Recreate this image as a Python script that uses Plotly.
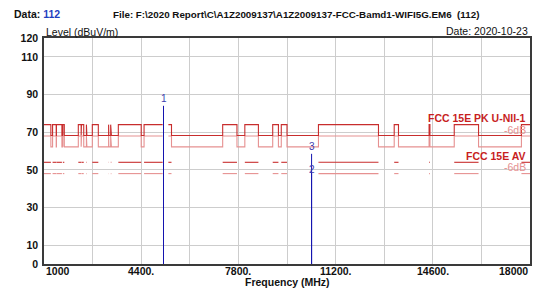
import plotly.graph_objects as go

# ---------------- data ----------------
# FCC 15.205 restricted bands (MHz): limit 74 dBuV/m PK / 54 AV inside, 68.2 PK outside
RESTRICTED_START = [960, 1300, 1435, 1645.5, 1660, 1718.8, 2200, 2310, 2483.5, 2690,
                    3260, 3332, 3345.8, 3600, 4500, 5350, 7250, 8025, 9000, 9300,
                    10600, 13250, 14470, 15350, 17700]
RESTRICTED_STOP = [1240, 1427, 1626.5, 1646.5, 1710, 1722.2, 2300, 2390, 2500, 2900,
                   3267, 3339, 3358, 4400, 5150, 5460, 7750, 8500, 9200, 9500,
                   12700, 13400, 14500, 16200, 21400]
EXCLUDED_BAND = [5150, 5350]          # no limit line drawn here (U-NII-1 band)
PK_RESTRICTED = 74.0
PK_OTHER = 68.2
AV_RESTRICTED = 54.0
MARGIN_DB = 6.0
F_MIN, F_MAX = 1000, 18000

MARKER_FREQ = [5180, 10360, 10360]
MARKER_LEVEL = [84.0, 48.7, 58.5]
MARKER_LABEL = ["1", "2", "3"]

X_GRID = [1000 + 1700 * i for i in range(11)]
X_TICK_VALS = [1000, 4400, 7800, 11200, 14600, 18000]
X_TICK_TEXT = ["1000", "4400.", "7800.", "11200.", "14600.", "18000"]
Y_TICK_VALS = [0, 10, 30, 50, 70, 90, 110, 120]

# ---------------- build limit lines ----------------
bps = sorted(set([F_MIN, F_MAX] + [f for f in RESTRICTED_START + RESTRICTED_STOP + EXCLUDED_BAND
                                    if F_MIN < f < F_MAX]))
segments = []
for a, b in zip(bps[:-1], bps[1:]):
    mid = (a + b) / 2
    if EXCLUDED_BAND[0] <= mid < EXCLUDED_BAND[1]:
        segments.append((a, b, None))
        continue
    restricted = any(s <= mid < e for s, e in zip(RESTRICTED_START, RESTRICTED_STOP))
    segments.append((a, b, restricted))

pk_x, pk_y, av_x, av_y = [], [], [], []
for a, b, r in segments:
    if r is None:
        pk_x.append(None); pk_y.append(None)
        continue
    lvl = PK_RESTRICTED if r else PK_OTHER
    pk_x += [a, b]; pk_y += [lvl, lvl]
    if r:
        av_x += [a, b, None]; av_y += [AV_RESTRICTED, AV_RESTRICTED, None]

pk6_y = [None if v is None else v - MARGIN_DB for v in pk_y]
av6_y = [None if v is None else v - MARGIN_DB for v in av_y]

DARK = "rgb(200,45,45)"
LIGHT = "rgb(230,145,145)"

fig = go.Figure()
fig.add_trace(go.Scatter(x=pk_x, y=pk6_y, mode="lines", line=dict(color=LIGHT, width=1.1),
                         connectgaps=False, hoverinfo="skip"))
fig.add_trace(go.Scatter(x=av_x, y=av6_y, mode="lines", line=dict(color=LIGHT, width=1.1),
                         connectgaps=False, hoverinfo="skip"))
fig.add_trace(go.Scatter(x=pk_x, y=pk_y, mode="lines", line=dict(color=DARK, width=1.1),
                         connectgaps=False, hoverinfo="skip"))
fig.add_trace(go.Scatter(x=av_x, y=av_y, mode="lines", line=dict(color=DARK, width=1.1),
                         connectgaps=False, hoverinfo="skip"))

NAVY = "rgb(20,20,175)"
for f, lv in zip(MARKER_FREQ, MARKER_LEVEL):
    fig.add_trace(go.Scatter(x=[f, f], y=[0, lv], mode="lines",
                             line=dict(color=NAVY, width=1), hoverinfo="skip"))

# ---------------- layout ----------------
L, R, T, B = 44, 19, 38, 27
W, H = 549, 291
PW, PH = W - L - R, H - T - B


def px(xp):
    return (xp - L) / PW


def py(yp):
    return (H - B - yp) / PH


FONT = "Liberation Sans, Arial, sans-serif"
ann = []
ann.append(dict(x=px(12), y=py(14), xref="paper", yref="paper", xanchor="left", yanchor="middle",
                text="Data: <span style='color:#1f3fbf'>112</span>", showarrow=False,
                font=dict(size=10.5, family=FONT, color="#111", weight="bold")))
ann.append(dict(x=px(111), y=py(14), xref="paper", yref="paper", xanchor="left", yanchor="middle",
                text="File: F:\\2020 Report\\C\\A1Z2009137\\A1Z2009137-FCC-Bamd1-WIFI5G.EM6  (112)",
                showarrow=False, font=dict(size=9.8, family=FONT, color="#111", weight="bold")))
ann.append(dict(x=px(44), y=py(32), xref="paper", yref="paper", xanchor="left", yanchor="middle",
                text="Level (dBuV/m)", showarrow=False,
                font=dict(size=10.5, family=FONT, color="#111")))
ann.append(dict(x=px(530), y=py(31), xref="paper", yref="paper", xanchor="right", yanchor="middle",
                text="Date: 2020-10-23", showarrow=False,
                font=dict(size=10.5, family=FONT, color="#111")))
ann.append(dict(x=0.5, y=py(282), xref="paper", yref="paper", xanchor="center", yanchor="middle",
                text="Frequency (MHz)", showarrow=False,
                font=dict(size=10.5, family=FONT, color="#111", weight="bold")))
# limit labels
ann.append(dict(x=px(528), y=py(118), xref="paper", yref="paper", xanchor="right", yanchor="middle",
                text="FCC 15E PK U-NII-1", showarrow=False,
                font=dict(size=10.5, family=FONT, color="rgb(200,30,30)", weight="bold")))
ann.append(dict(x=px(528), y=py(130), xref="paper", yref="paper", xanchor="right", yanchor="middle",
                text="-6dB", showarrow=False,
                font=dict(size=10.5, family=FONT, color=LIGHT)))
ann.append(dict(x=px(528), y=py(156), xref="paper", yref="paper", xanchor="right", yanchor="middle",
                text="FCC 15E AV", showarrow=False,
                font=dict(size=10.5, family=FONT, color="rgb(200,30,30)", weight="bold")))
ann.append(dict(x=px(528), y=py(167), xref="paper", yref="paper", xanchor="right", yanchor="middle",
                text="-6dB", showarrow=False,
                font=dict(size=10.5, family=FONT, color=LIGHT)))
# x tick labels
for v, t in zip(X_TICK_VALS, X_TICK_TEXT):
    anchor = "center"
    if v == F_MIN:
        anchor = "left"
    elif v == F_MAX:
        anchor = "right"
    ann.append(dict(x=v, y=py(271), xref="x", yref="paper", xanchor=anchor, yanchor="middle",
                    text=t, showarrow=False,
                    font=dict(size=10.5, family=FONT, color="#111", weight="bold")))
# marker labels
for f, lv, lb in zip(MARKER_FREQ, MARKER_LEVEL, MARKER_LABEL):
    ys = 3 if lb == "2" else 7
    ann.append(dict(x=f, y=lv, xref="x", yref="y", xanchor="center", yanchor="middle",
                    yshift=ys, text=lb, showarrow=False,
                    font=dict(size=10, family=FONT, color="rgb(60,60,175)")))

fig.update_layout(
    width=W, height=H,
    margin=dict(l=L, r=R, t=T, b=B, pad=0),
    paper_bgcolor="white", plot_bgcolor="white",
    showlegend=False,
    annotations=ann,
)
fig.update_xaxes(range=[F_MIN, F_MAX], tickvals=X_GRID, showticklabels=False,
                 showgrid=True, gridcolor="rgb(205,205,205)", gridwidth=1,
                 showline=True, linecolor="#3a3a3a", linewidth=1.5, mirror=True,
                 ticks="", zeroline=False, fixedrange=True)
fig.update_yaxes(range=[0, 120], tickvals=Y_TICK_VALS,
                 tickfont=dict(size=10.5, family=FONT, color="#111", weight="bold"),
                 showgrid=True, gridcolor="rgb(205,205,205)", gridwidth=1,
                 showline=True, linecolor="#3a3a3a", linewidth=1.5, mirror=True,
                 ticks="", ticklabelstandoff=2, zeroline=False, fixedrange=True)

fig.write_html("out.html", config={"displayModeBar": False},
               post_script="document.body.style.margin='0';document.body.style.padding='0';")
